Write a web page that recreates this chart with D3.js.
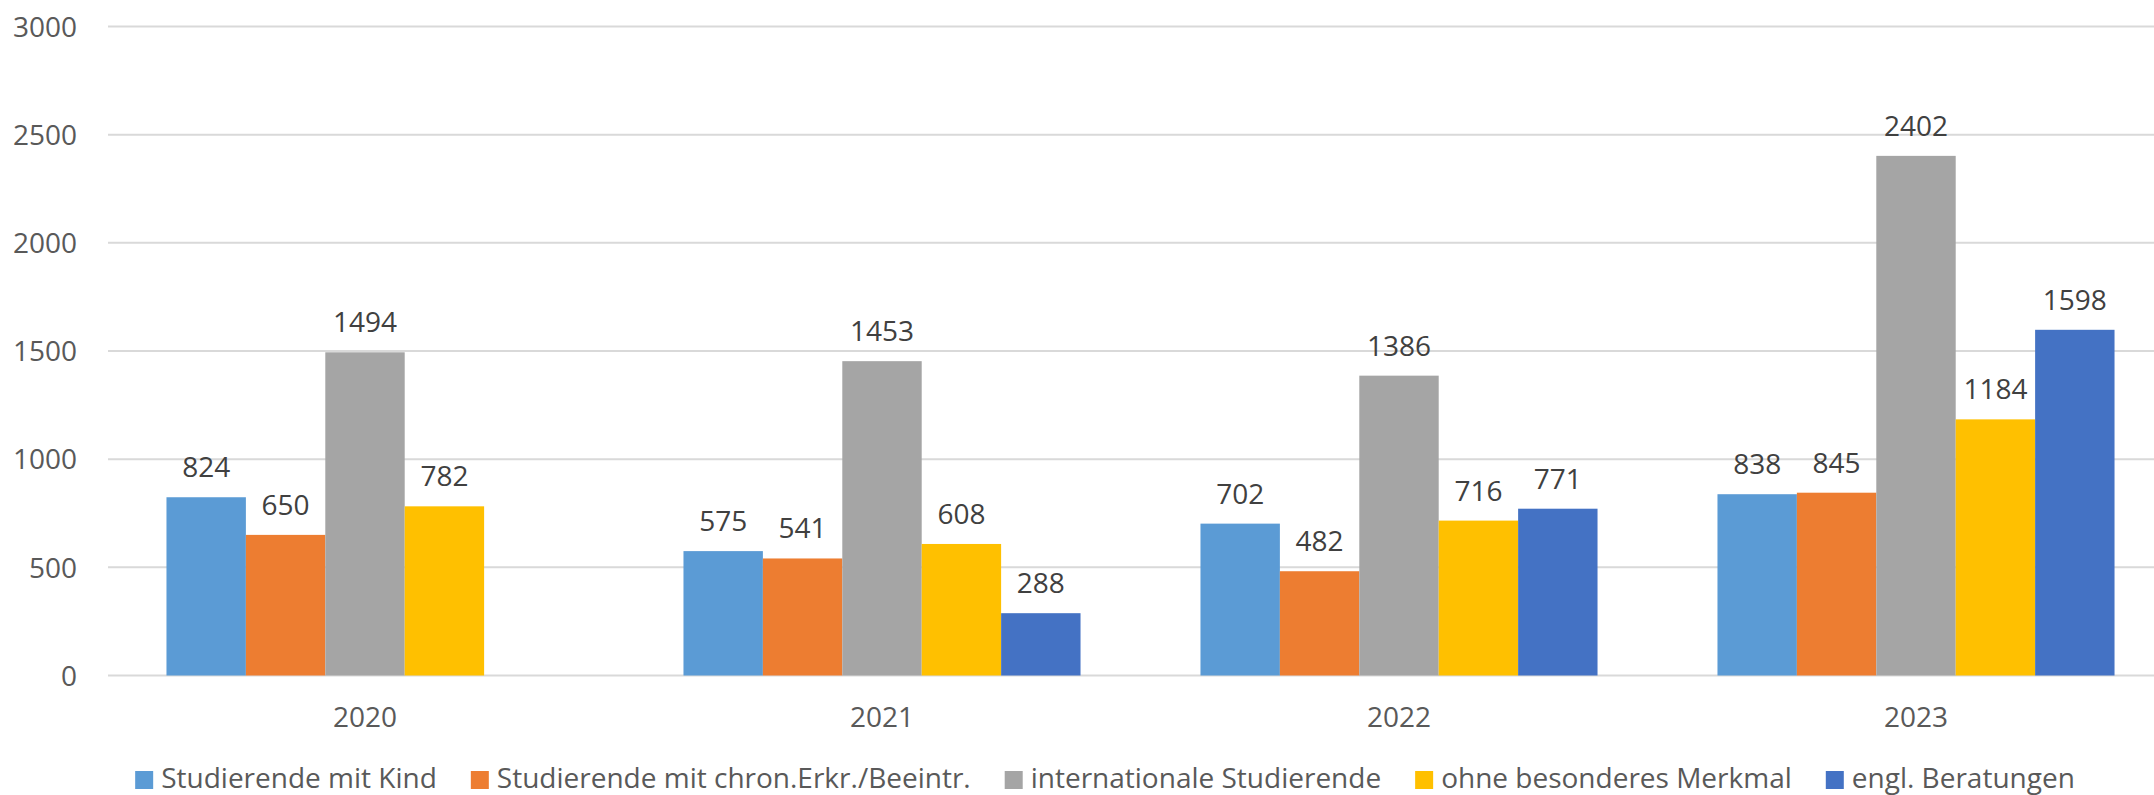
<!DOCTYPE html>
<html>
<head>
<meta charset="utf-8">
<script src="https://cdn.jsdelivr.net/npm/d3@7"></script>
<style>
  html, body { margin: 0; padding: 0; background: #fff; }
  svg { display: block; font-family: "Open Sans", sans-serif; }
</style>
</head>
<body>
<svg id="chart" width="2154" height="795"></svg>
<script>
const categories = ["2020", "2021", "2022", "2023"];
const seriesNames = [
  "Studierende mit Kind",
  "Studierende mit chron.Erkr./Beeintr.",
  "internationale Studierende",
  "ohne besonderes Merkmal",
  "engl. Beratungen"
];
const seriesColors = ["#5B9BD5", "#ED7D31", "#A5A5A5", "#FFC000", "#4472C4"];
const mitKind = [824, 575, 702, 838];
const chronErkr = [650, 541, 482, 845];
const international = [1494, 1453, 1386, 2402];
const ohneMerkmal = [782, 608, 716, 1184];
const englBeratungen = [null, 288, 771, 1598];
const yTicks = [0, 500, 1000, 1500, 2000, 2500, 3000];

const seriesValues = [mitKind, chronErkr, international, ohneMerkmal, englBeratungen];

const svg = d3.select("#chart");
const plot = { left: 106.5, right: 2174.5, top: 26.5, bottom: 675.5 };

const x0 = d3.scaleBand().domain(categories)
  .range([plot.left, plot.right])
  .paddingInner(0.232).paddingOuter(0.116);
const x1 = d3.scaleBand().domain(d3.range(seriesNames.length))
  .range([0, x0.bandwidth()]).padding(0);
const y = d3.scaleLinear().domain([0, 3000]).range([plot.bottom, plot.top]);

// gridlines
svg.append("g").selectAll("line").data(yTicks).join("line")
  .attr("x1", 108).attr("x2", plot.right)
  .attr("y1", d => y(d)).attr("y2", d => y(d))
  .attr("stroke", "#D9D9D9").attr("stroke-width", 2);

// y axis labels
const yAxis = d3.axisLeft(y).tickValues(yTicks).tickFormat(d3.format("d")).tickSize(0).tickPadding(0);
const gy = svg.append("g").attr("transform", "translate(77,0)").call(yAxis);
gy.select(".domain").remove();
gy.selectAll("text").attr("font-size", 28).attr("fill", "#595959")
  .attr("font-family", "Open Sans, sans-serif").attr("dy", "0.35em");

// x axis labels
const xAxis = d3.axisBottom(x0).tickSize(0).tickPadding(0);
const gx = svg.append("g").attr("transform", `translate(0,${plot.bottom})`).call(xAxis);
gx.select(".domain").remove();
gx.selectAll("text").attr("font-size", 28).attr("fill", "#595959")
  .attr("font-family", "Open Sans, sans-serif").attr("dy", null).attr("y", 51);

// bars
const flat = [];
categories.forEach((c, ci) => {
  seriesValues.forEach((vals, si) => {
    if (vals[ci] != null) flat.push({ c, si, v: vals[ci] });
  });
});
const gBars = svg.append("g");
gBars.selectAll("rect").data(flat).join("rect")
  .attr("x", d => x0(d.c) + x1(d.si))
  .attr("width", x1.bandwidth())
  .attr("y", d => y(d.v))
  .attr("height", d => y(0) - y(d.v))
  .attr("fill", d => seriesColors[d.si]);

// data labels
gBars.selectAll("text").data(flat).join("text")
  .attr("x", d => x0(d.c) + x1(d.si) + x1.bandwidth() / 2)
  .attr("y", d => y(d.v) - 20)
  .attr("text-anchor", "middle")
  .attr("font-size", 28)
  .attr("fill", "#404040")
  .text(d => d.v);

// legend
const legend = svg.append("g");
const items = legend.selectAll("g").data(seriesNames).join("g");
items.append("rect").attr("width", 18).attr("height", 18).attr("y", -17)
  .attr("fill", (d, i) => seriesColors[i]);
items.append("text").attr("x", 26).attr("y", 0)
  .attr("font-size", 28).attr("fill", "#595959").text(d => d);
let widths = [];
items.each(function() { widths.push(d3.select(this).select("text").node().getComputedTextLength() + 26); });
const gap = 34;
const total = d3.sum(widths) + gap * (widths.length - 1);
let cx = 1105 - total / 2;
items.attr("transform", (d, i) => {
  const t = `translate(${cx},788)`;
  cx += widths[i] + gap;
  return t;
});
</script>
</body>
</html>
